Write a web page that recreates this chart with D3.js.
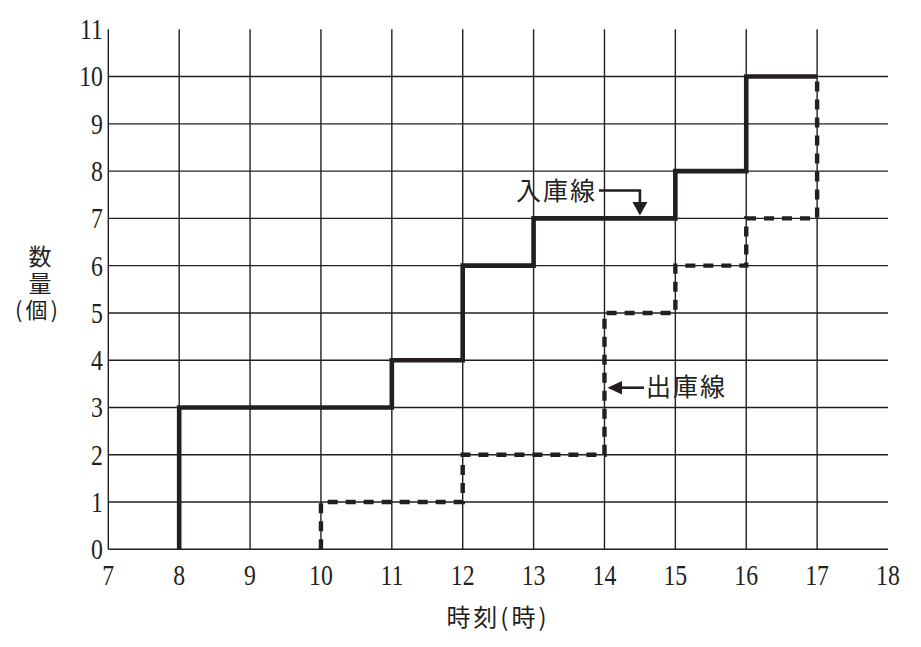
<!DOCTYPE html>
<html><head><meta charset="utf-8">
<script src="https://cdn.jsdelivr.net/npm/d3@7"></script>
<style>
html,body{margin:0;padding:0;background:#fff;}
svg{display:block;}
</style></head>
<body>
<svg id="chart" width="921" height="647"></svg>
<script>
// ---- data ----
const xTicks = [7,8,9,10,11,12,13,14,15,16,17,18];
const yTicks = [0,1,2,3,4,5,6,7,8,9,10,11];
const xGrid = [7,8,9,10,11,12,13,14,15,16,17];
const yGrid = [0,1,2,3,4,5,6,7,8,9,10];
// 入庫線 (step after)
const inTimes = [8,8,11,12,13,15,16,17];
const inQty   = [0,3,4,6,7,8,10,10];
// 出庫線 (step after)
const outTimes = [10,10,12,14,15,16,17];
const outQty   = [0,1,2,5,6,7,10];
const xTitle = "時刻(時)";
const yTitleTop = "数量";
const yTitleUnit = "(個)";
const inLabel = "入庫線";
const outLabel = "出庫線";

const ink = "#231f20";
const SERIF = '"Liberation Serif"';
const CJK = '"Noto Sans CJK JP"';
const svg = d3.select("#chart");
const x = d3.scaleLinear().domain([7,18]).range([108.3, 888]);
const y = d3.scaleLinear().domain([0,11]).range([549.3, 29.3]);

// grid
svg.append("g").selectAll("line").data(yGrid).join("line")
  .attr("x1", x(7)).attr("x2", x(18))
  .attr("y1", d=>y(d)).attr("y2", d=>y(d))
  .attr("stroke", ink).attr("stroke-width", 1.4);
svg.append("g").selectAll("line").data(xGrid).join("line")
  .attr("x1", d=>x(d)).attr("x2", d=>x(d))
  .attr("y1", y(0)).attr("y2", y(11))
  .attr("stroke", ink).attr("stroke-width", 1.4);

// tick labels (tall, narrow serif digits)
const fmt = d3.format("d");
svg.append("g").selectAll("g").data(yTicks).join("g")
  .attr("transform", d=>`translate(103,${y(d)})`)
  .append("text")
  .attr("transform","scale(0.82,1)")
  .attr("text-anchor","end").attr("dy","0.34em")
  .style("font-family", SERIF).style("font-size","29px")
  .attr("fill", ink).text(fmt);
svg.append("g").selectAll("g").data(xTicks).join("g")
  .attr("transform", d=>`translate(${x(d)},${y(0)+35.5})`)
  .append("text")
  .attr("transform","scale(0.82,1)")
  .attr("text-anchor","middle")
  .style("font-family", SERIF).style("font-size","29px")
  .attr("fill", ink).text(fmt);

// step lines
const line = d3.line().x(d=>x(d[0])).y(d=>y(d[1])).curve(d3.curveStepAfter);
svg.append("path").datum(d3.zip(inTimes, inQty))
  .attr("d", line).attr("fill","none").attr("stroke", ink)
  .attr("stroke-width", 4.6).attr("stroke-linejoin","miter").attr("stroke-linecap","butt");
svg.append("path").datum(d3.zip(outTimes, outQty))
  .attr("d", line).attr("fill","none").attr("stroke", ink)
  .attr("stroke-width", 4.4).attr("stroke-dasharray","10,8").attr("stroke-linecap","butt");

// titles
svg.append("text").attr("x", 498).attr("y", 626).attr("text-anchor","middle")
  .style("font-family", CJK).style("font-size","24px").style("letter-spacing","3px")
  .attr("fill", ink).text(xTitle);
svg.append("text").attr("x", 40).attr("y", 245)
  .style("writing-mode","vertical-rl").style("letter-spacing","4px")
  .style("font-family", CJK).style("font-size","23px")
  .attr("fill", ink).text(yTitleTop);
svg.append("text").attr("x", 38).attr("y", 318).attr("text-anchor","middle")
  .style("font-family", CJK).style("font-size","22px").style("letter-spacing","3px")
  .attr("fill", ink).text(yTitleUnit);

// annotations
svg.append("text").attr("x", 516).attr("y", 200)
  .style("font-family", CJK).style("font-size","25px").style("letter-spacing","2px")
  .attr("fill", ink).text(inLabel);
svg.append("path")
  .attr("d", `M599,${190.5} H${x(14.5)} V${203}`)
  .attr("fill","none").attr("stroke", ink).attr("stroke-width", 2.6);
svg.append("path")
  .attr("d", `M${x(14.5)-7.5},202 L${x(14.5)+7.5},202 L${x(14.5)},${y(7)-3} Z`)
  .attr("fill", ink);

svg.append("text").attr("x", 646).attr("y", 396)
  .style("font-family", CJK).style("font-size","25px").style("letter-spacing","2px")
  .attr("fill", ink).text(outLabel);
svg.append("path")
  .attr("d", `M644,387.7 H620`)
  .attr("fill","none").attr("stroke", ink).attr("stroke-width", 2.6);
svg.append("path")
  .attr("d", `M622,381 L622,394.5 L${x(14)+3},387.7 Z`)
  .attr("fill", ink);
</script>
</body></html>
